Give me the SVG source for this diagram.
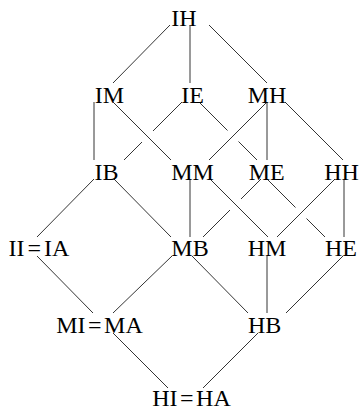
<svg xmlns="http://www.w3.org/2000/svg" width="359" height="411" viewBox="0 0 359 411">
<style>
.e{stroke:#000;stroke-width:0.8;fill:none;stroke-linecap:butt}
.t{font-family:"Liberation Serif","Times New Roman",serif;font-size:24px;fill:#000;text-anchor:middle}
</style>
<rect width="359" height="411" fill="#fff"/>
<g id="connectors">
<line class="e" x1="170" y1="25" x2="113" y2="83"/>
<line class="e" x1="190" y1="25" x2="190" y2="83"/>
<line class="e" x1="209" y1="25" x2="267" y2="83"/>
<line class="e" x1="94" y1="102" x2="94" y2="160"/>
<line class="e" x1="113" y1="102" x2="171" y2="160"/>
<line class="e" x1="182" y1="102" x2="153" y2="131"/>
<line class="e" x1="142" y1="142" x2="124" y2="160"/>
<line class="e" x1="199" y1="102" x2="227.5" y2="130.5"/>
<line class="e" x1="238.5" y1="141.5" x2="257" y2="160"/>
<line class="e" x1="267" y1="102" x2="209" y2="160"/>
<line class="e" x1="267" y1="102" x2="267" y2="160"/>
<line class="e" x1="285" y1="102" x2="343" y2="160"/>
<line class="e" x1="94" y1="179" x2="37" y2="237"/>
<line class="e" x1="114" y1="179" x2="171" y2="237"/>
<line class="e" x1="190" y1="179" x2="190" y2="237"/>
<line class="e" x1="210" y1="179" x2="268" y2="237"/>
<line class="e" x1="261" y1="179" x2="241" y2="199"/>
<line class="e" x1="230" y1="210" x2="203" y2="237"/>
<line class="e" x1="267" y1="179" x2="295.5" y2="207.5"/>
<line class="e" x1="306.5" y1="218.5" x2="325" y2="237"/>
<line class="e" x1="335" y1="179" x2="277" y2="237"/>
<line class="e" x1="344" y1="179" x2="344" y2="237"/>
<line class="e" x1="37" y1="256" x2="93" y2="313"/>
<line class="e" x1="172" y1="256" x2="113" y2="313"/>
<line class="e" x1="192" y1="256" x2="248" y2="313"/>
<line class="e" x1="267" y1="256" x2="267" y2="313"/>
<line class="e" x1="343" y1="256" x2="286" y2="313"/>
<line class="e" x1="113" y1="333" x2="168" y2="388"/>
<line class="e" x1="258" y1="333" x2="203" y2="388"/>
</g>
<g id="IH"><text class="t" x="184" y="26">IH</text></g>
<g id="IM"><text class="t" x="109.5" y="103">IM</text></g>
<g id="IE"><text class="t" x="192.5" y="103">IE</text></g>
<g id="MH"><text class="t" x="267" y="103">MH</text></g>
<g id="IB"><text class="t" x="106.5" y="179.5">IB</text></g>
<g id="MM"><text class="t" x="192.5" y="179.5">MM</text></g>
<g id="ME"><text class="t" x="266.7" y="179.5">ME</text></g>
<g id="HH"><text class="t" x="341.5" y="179.5">HH</text></g>
<g id="IIIA"><text class="t" x="39" y="256">II<tspan dx="3">=</tspan><tspan dx="3">IA</tspan></text></g>
<g id="MB"><text class="t" x="190" y="256">MB</text></g>
<g id="HM"><text class="t" x="267" y="256">HM</text></g>
<g id="HE"><text class="t" x="341" y="256">HE</text></g>
<g id="MIMA"><text class="t" x="99.5" y="333">MI<tspan dx="2.5">=</tspan><tspan dx="2.5">MA</tspan></text></g>
<g id="HB"><text class="t" x="264.7" y="333">HB</text></g>
<g id="HIHA"><text class="t" x="191.5" y="405.5">HI<tspan dx="2.5">=</tspan><tspan dx="2.5">HA</tspan></text></g>
</svg>
